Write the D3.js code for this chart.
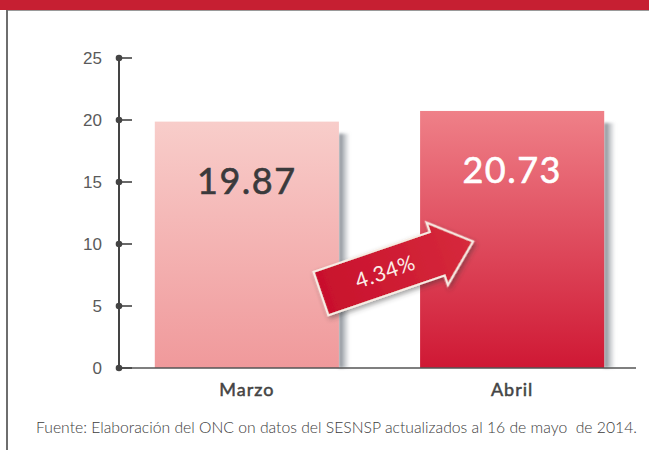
<!DOCTYPE html>
<html>
<head>
<meta charset="utf-8">
<script src="https://cdn.jsdelivr.net/npm/d3@7"></script>
<style>
    html, body { margin: 0; padding: 0; background: #fff; }
    svg { display: block; }
</style>
</head>
<body>
<div id="chart"></div>
<script>
// Tasa mensual: marzo vs abril 2014
const categories = ["Marzo", "Abril"];
const values = [19.87, 20.73];
const valueLabels = ["19.87", "20.73"];
const yTicks = [0, 5, 10, 15, 20, 25];
const changeLabel = "4.34%";
const source = "Fuente: Elaboración del ONC on datos del SESNSP actualizados al 16 de mayo  de 2014.";

(function drawChart() {
    const width = 649;
    const height = 450;

    const svg = d3.select("#chart").append("svg")
        .attr("width", width)
        .attr("height", height);

    const defs = svg.append("defs");

    const gradMarzo = defs.append("linearGradient").attr("id", "g-marzo")
        .attr("x1", 0).attr("y1", 0).attr("x2", 0).attr("y2", 1);
    gradMarzo.append("stop").attr("offset", "0%").attr("stop-color", "#f8cdca");
    gradMarzo.append("stop").attr("offset", "100%").attr("stop-color", "#f0999b");

    const gradAbril = defs.append("linearGradient").attr("id", "g-abril")
        .attr("x1", 0).attr("y1", 0).attr("x2", 0).attr("y2", 1);
    gradAbril.append("stop").attr("offset", "0%").attr("stop-color", "#ef8088");
    gradAbril.append("stop").attr("offset", "100%").attr("stop-color", "#cf1834");

    const gradShadow = defs.append("linearGradient").attr("id", "g-shadow")
        .attr("x1", 0).attr("y1", 0).attr("x2", 1).attr("y2", 0);
    gradShadow.append("stop").attr("offset", "0%").attr("stop-color", "#5e6670").attr("stop-opacity", 0.85);
    gradShadow.append("stop").attr("offset", "100%").attr("stop-color", "#8a9098").attr("stop-opacity", 0);

    const gradArrow = defs.append("linearGradient").attr("id", "g-arrow")
        .attr("x1", 0).attr("y1", 0).attr("x2", 1).attr("y2", 0);
    gradArrow.append("stop").attr("offset", "0%").attr("stop-color", "#c8102c");
    gradArrow.append("stop").attr("offset", "100%").attr("stop-color", "#d62a3c");

    const blur = defs.append("filter").attr("id", "soft")
        .attr("x", "-20%").attr("y", "-20%").attr("width", "140%").attr("height", "140%");
    blur.append("feGaussianBlur").attr("stdDeviation", 1.6);

    const dropShadow = defs.append("filter").attr("id", "drop")
        .attr("x", "-20%").attr("y", "-30%").attr("width", "140%").attr("height", "170%");
    dropShadow.append("feDropShadow").attr("dx", 1).attr("dy", 3).attr("stdDeviation", 2.5)
        .attr("flood-color", "#333").attr("flood-opacity", 0.45);

    // frame: red band on top, grey rule on the left
    svg.append("rect").attr("x", 0).attr("y", 0).attr("width", width).attr("height", 10).attr("fill", "#c61f32");
    svg.append("line").attr("x1", 6).attr("x2", width).attr("y1", 10.5).attr("y2", 10.5)
        .attr("stroke", "#9a9a9a").attr("stroke-width", 1);
    svg.append("line").attr("x1", 7).attr("x2", 7).attr("y1", 10).attr("y2", height)
        .attr("stroke", "#6e6e6e").attr("stroke-width", 2);

    const x = d3.scaleBand()
        .domain(categories)
        .range([115, 644])
        .paddingInner(0.306)
        .paddingOuter(0.15);

    const y = d3.scaleLinear()
        .domain([0, 25])
        .range([368, 58]);

    const axisX = 119;
    const rows = categories.map((c, i) => ({ cat: c, value: values[i], label: valueLabels[i] }));

    // bar shadows
    svg.selectAll("rect.shadow")
        .data(rows)
        .join("rect")
        .attr("class", "shadow")
        .attr("x", d => x(d.cat) + x.bandwidth())
        .attr("y", d => y(d.value) + 12)
        .attr("width", 11)
        .attr("height", d => y(0) - y(d.value) - 12)
        .attr("fill", "url(#g-shadow)")
        .attr("filter", "url(#soft)");

    // bars
    svg.selectAll("rect.bar")
        .data(rows)
        .join("rect")
        .attr("class", "bar")
        .attr("x", d => x(d.cat))
        .attr("y", d => y(d.value))
        .attr("width", x.bandwidth())
        .attr("height", d => y(0) - y(d.value))
        .attr("fill", (d, i) => i === 0 ? "url(#g-marzo)" : "url(#g-abril)");

    // value labels inside bars
    svg.selectAll("text.value")
        .data(rows)
        .join("text")
        .attr("class", "value")
        .attr("x", d => x(d.cat) + x.bandwidth() / 2)
        .attr("y", d => y(d.value) + 72)
        .attr("text-anchor", "middle")
        .attr("font-family", "Lato, 'Open Sans', sans-serif")
        .attr("font-weight", 400)
        .attr("font-size", 36)
        .attr("letter-spacing", 1.5)
        .attr("fill", (d, i) => i === 0 ? "#3a3a3c" : "#ffffff")
        .attr("stroke", (d, i) => i === 0 ? "#3a3a3c" : "#ffffff")
        .attr("stroke-width", 0.6)
        .text(d => d.label);

    // x baseline
    svg.append("line")
        .attr("x1", axisX).attr("x2", 636)
        .attr("y1", y(0)).attr("y2", y(0))
        .attr("stroke", "#555").attr("stroke-width", 1.5);

    // y axis
    const yAxis = svg.append("g").attr("class", "y-axis");
    yAxis.append("line")
        .attr("x1", axisX).attr("x2", axisX)
        .attr("y1", y(25)).attr("y2", y(0))
        .attr("stroke", "#444").attr("stroke-width", 2);
    const ticks = yAxis.selectAll("g.tick")
        .data(yTicks)
        .join("g")
        .attr("class", "tick")
        .attr("transform", d => `translate(${axisX},${y(d)})`);
    ticks.append("line").attr("x1", 0).attr("x2", 13).attr("stroke", "#444").attr("stroke-width", 1.6);
    ticks.append("circle").attr("r", 3.3).attr("fill", "#444");
    ticks.append("text")
        .attr("x", -17)
        .attr("dy", "0.36em")
        .attr("text-anchor", "end")
        .attr("font-family", "'Liberation Sans', Arial, sans-serif")
        .attr("font-size", 17)
        .attr("fill", "#5a5a5a")
        .text(d => d);

    // category labels
    svg.selectAll("text.cat")
        .data(categories)
        .join("text")
        .attr("class", "cat")
        .attr("x", d => x(d) + x.bandwidth() / 2)
        .attr("y", 396)
        .attr("text-anchor", "middle")
        .attr("font-family", "Lato, 'Open Sans', sans-serif")
        .attr("font-weight", 400)
        .attr("font-size", 18)
        .attr("letter-spacing", 1)
        .attr("fill", "#444")
        .attr("stroke", "#444")
        .attr("stroke-width", 0.5)
        .text(d => d);

    // change arrow from Marzo bar to Abril bar
    const start = [x(categories[0]) + x.bandwidth() - 18, y(6)];
    const tip = [x(categories[1]) + 53, y(10.2)];
    const dx = tip[0] - start[0];
    const dy = tip[1] - start[1];
    const len = Math.hypot(dx, dy);
    const angle = Math.atan2(dy, dx) * 180 / Math.PI;
    const bodyHalf = 23;
    const headHalf = 33;
    const headStart = len - 38;

    const arrow = svg.append("g")
        .attr("transform", `translate(${start[0]},${start[1]}) rotate(${angle})`);
    const arrowPts = [
        [0, -bodyHalf], [headStart, -bodyHalf], [headStart, -headHalf], [len, 0],
        [headStart, headHalf], [headStart, bodyHalf], [0, bodyHalf]
    ];
    arrow.append("path")
        .attr("d", d3.line()(arrowPts) + "Z")
        .attr("fill", "url(#g-arrow)")
        .attr("stroke", "#f7ece4")
        .attr("stroke-width", 2.2)
        .attr("stroke-linejoin", "miter")
        .attr("filter", "url(#drop)");
    arrow.append("text")
        .attr("x", 68)
        .attr("y", 0)
        .attr("dy", "0.36em")
        .attr("text-anchor", "middle")
        .attr("font-family", "Lato, 'Open Sans', sans-serif")
        .attr("font-size", 21)
        .attr("letter-spacing", 0.8)
        .attr("fill", "#fbeee8")
        .text(changeLabel);

    // source note
    svg.append("text")
        .attr("x", 36)
        .attr("y", 433)
        .attr("font-family", "Lato, 'Open Sans', sans-serif")
        .attr("font-weight", 300)
        .attr("font-size", 15)
        .attr("textLength", 601)
        .attr("lengthAdjust", "spacingAndGlyphs")
        .attr("fill", "#3c3c3c")
        .attr("xml:space", "preserve")
        .style("white-space", "pre")
        .text(source);
})();
</script>
</body>
</html>
